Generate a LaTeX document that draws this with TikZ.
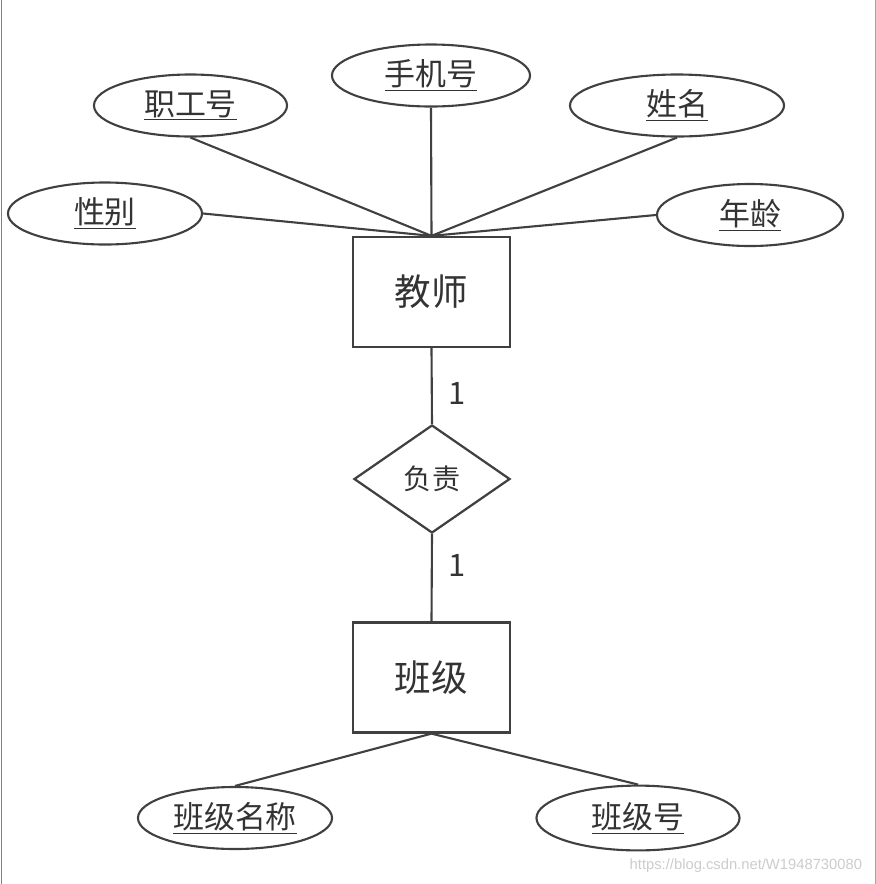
\documentclass[tikz,border=0pt]{standalone}
\usepackage{fontspec}
\newfontfamily\cjk{Noto Sans CJK SC}
\newfontfamily\wmfont{Liberation Sans}
\usetikzlibrary{shapes.geometric}
\definecolor{erline}{HTML}{404040}
\definecolor{ertext}{HTML}{333333}
\begin{document}
\begin{tikzpicture}[x=0.025cm, y=-0.025cm, font=\cjk, text=ertext,
    entity/.style={draw=erline, line width=1.6pt, rectangle, minimum width=3.925cm, minimum height=2.75cm, font=\cjk\fontsize{26}{30}\selectfont},
    relation/.style={draw=erline, line width=1.6pt, diamond, inner sep=0pt, minimum width=3.9cm, minimum height=2.7cm, font=\cjk\fontsize{20}{24}\selectfont},
    attr/.style={draw=erline, line width=1.5pt, ellipse, inner sep=0pt, minimum height=1.55cm, font=\cjk\fontsize{22}{26}\selectfont},
    link/.style={draw=erline, line width=1.5pt},
    card/.style={right=8pt, font=\cjk\fontsize{22}{26}\selectfont}]
    \useasboundingbox (0, 0) rectangle (876, 884);
    % screenshot edges
    \draw[gray, line width=0.6pt] (1, 0) -- (1, 884);
    \draw[gray!70, line width=0.6pt] (875, 0) -- (875, 884);
    % entities and relation
    \node[entity] (teacher) at (431.5, 292) {教师};
    \node[relation] (charge) at (432, 479) {负责};
    \node[entity] (class) at (431.5, 677.5) {班级};
    % teacher attributes
    \node[attr, minimum width=4.95cm] (phone) at (431, 75.5) {\underline{手机号}};
    \node[attr, minimum width=4.825cm] (staffno) at (190.5, 105.5) {\underline{职工号}};
    \node[attr, minimum width=5.35cm] (name) at (677, 105.5) {\underline{姓名}};
    \node[attr, minimum width=4.85cm] (sex) at (105, 213.5) {\underline{性别}};
    \node[attr, minimum width=4.65cm] (age) at (750, 215) {\underline{年龄}};
    % class attributes
    \node[attr, minimum width=4.85cm] (classname) at (235, 818) {\underline{班级名称}};
    \node[attr, minimum width=5.075cm, minimum height=1.62cm] (classno) at (638, 818) {\underline{班级号}};
    % links to teacher
    \draw[link] (teacher.north) -- (phone.south);
    \draw[link] (teacher.north) -- (staffno.south);
    \draw[link] (teacher.north) -- (name.south);
    \draw[link] (teacher.north) -- (sex.east);
    \draw[link] (teacher.north) -- (age.west);
    % links to class
    \draw[link] (class.south) -- (classname.north);
    \draw[link] (class.south) -- (classno.north);
    % relation with cardinalities
    \draw[link] (teacher.south) -- node[card, pos=0.6] (card1) {1} (charge.north);
    \draw[link] (charge.south) -- node[card, pos=0.36] (card2) {1} (class.north);
    % watermark
    \node[anchor=east, text=black!20, font=\wmfont\fontsize{10.5}{12}\selectfont] (mark) at (867, 866) {https://blog.csdn.net/W1948730080};
\end{tikzpicture}
\end{document}
